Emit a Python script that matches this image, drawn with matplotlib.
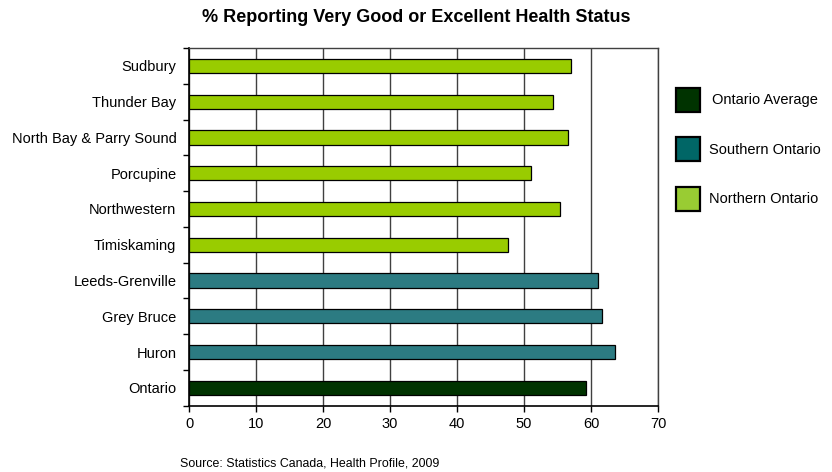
import matplotlib
matplotlib.use('Agg')
import matplotlib.pyplot as plt
from matplotlib.patches import Rectangle
import numpy as np

# DATA #################################################################################################################

regions = ['Ontario', 'Huron', 'Grey Bruce', 'Leeds-Grenville', 'Timiskaming', 'Northwestern',
           'Porcupine', 'North Bay & Parry Sound', 'Thunder Bay', 'Sudbury']
percent_good = [59.2, 63.6, 61.7, 61.0, 47.6, 55.3, 51.1, 56.5, 54.3, 57.0]
groups = ['avg', 'south', 'south', 'south', 'north', 'north', 'north', 'north', 'north', 'north']
x_ticks = [0, 10, 20, 30, 40, 50, 60, 70]

legend_labels = ['Ontario Average', 'Southern Ontario', 'Northern Ontario']

########################################################################################################################

W, H = 832, 472
bar_colors = {'avg': '#003300', 'south': '#2c7b82', 'north': '#99cc00'}
legend_colors = ['#003300', '#006666', '#99cc33']

plt.rcParams['font.family'] = ['Liberation Sans', 'DejaVu Sans']

fig = plt.figure(figsize=(W / 100, H / 100), dpi=100)
ax = fig.add_axes([189 / W, 1 - 405.7 / H, (658 - 189) / W, (405.7 - 48) / H])

y = np.arange(len(regions))
ax.barh(y, percent_good, height=0.4, color=[bar_colors[g] for g in groups],
        edgecolor='black', linewidth=0.9, zorder=3)

ax.set_xlim(0, 70)
ax.set_ylim(-0.5, len(regions) - 0.5)
ax.set_xticks(x_ticks)
ax.set_yticks(y)
ax.set_yticklabels(regions)
ax.set_yticks(np.arange(-0.5, len(regions), 1), minor=True)

ax.tick_params(axis='y', which='major', length=0, pad=9, labelsize=10.5)
ax.tick_params(axis='y', which='minor', length=4, width=1, color='black')
ax.tick_params(axis='x', length=4, width=1, direction='out', labelsize=10.5, pad=4)

ax.grid(axis='x', color='#404040', linewidth=1, zorder=0)
ax.set_axisbelow(True)
for side in ['left', 'bottom']:
    ax.spines[side].set_color('black')
    ax.spines[side].set_linewidth(1.2)
for side in ['top', 'right']:
    ax.spines[side].set_color('#404040')
    ax.spines[side].set_linewidth(1)

fig.text(416 / W, 1 - 18 / H, '% Reporting Very Good or Excellent Health Status',
         ha='center', va='center', fontsize=13, fontweight='bold')
fig.text(180 / W, 1 - 463 / H, 'Source: Statistics Canada, Health Profile, 2009',
         ha='left', va='center', fontsize=8.9)

# legend drawn by hand so the square sizes and spacing match
for i, (label, color) in enumerate(zip(legend_labels, legend_colors)):
    top = 88 + i * 49.5
    fig.patches.append(Rectangle((676 / W, 1 - (top + 24) / H), 24 / W, 24 / H,
                                 transform=fig.transFigure, facecolor=color,
                                 edgecolor='black', linewidth=1.6))
    fig.text((712 if i == 0 else 709) / W, 1 - (top + 12) / H, label,
             ha='left', va='center', fontsize=10.5)

fig.savefig('out.png', dpi=100)
